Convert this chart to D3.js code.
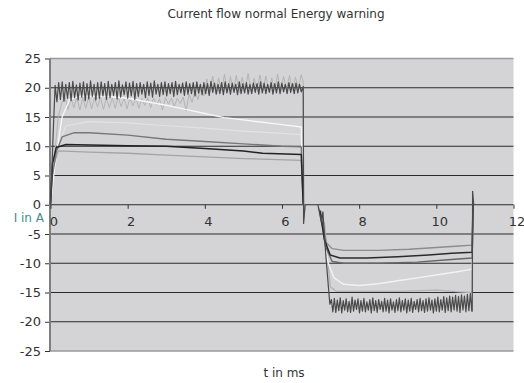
<!DOCTYPE html>
<html>
<head>
<meta charset="utf-8">
<script src="https://cdn.jsdelivr.net/npm/d3@7"></script>
<style>
  body { margin: 0; background: #fff; }
  text { font-family: "DejaVu Sans", sans-serif; }
</style>
</head>
<body>
<div id="chart"></div>
<script>
// ---- data ----
const title = "Current flow normal Energy warning";
const xTicks = [0, 2, 4, 6, 8, 10, 12];
const yTicks = [25, 20, 15, 10, 5, 0, -5, -10, -15, -20, -25];

// dark noisy trace, first pulse (0.12 .. 6.5 ms, even sampling)
const darkNoiseOn = [
  20.4, 17.6, 20.9, 18.0, 21.0, 17.7, 20.6, 18.2, 20.9, 17.8,
  21.1, 18.3, 20.5, 17.9, 20.8, 18.4, 21.0, 17.8, 20.7, 18.1,
  21.2, 18.5, 20.6, 17.9, 20.9, 18.2, 21.0, 18.6, 20.7, 18.0,
  21.1, 18.3, 20.6, 18.7, 20.9, 18.1, 21.2, 18.4, 20.5, 18.8,
  21.0, 18.2, 20.8, 18.6, 21.1, 18.0, 20.7, 18.5, 20.9, 18.9,
  20.6, 18.3, 21.0, 18.7, 20.8, 18.4, 21.2, 18.9, 20.6, 18.5,
  20.9, 18.8, 21.0, 18.6, 20.7, 19.0, 20.9, 18.5, 21.1, 18.8,
  20.6, 19.1, 20.8, 18.7, 21.0, 18.9, 20.7, 19.0, 20.9, 18.6,
  21.0, 19.1, 20.6, 18.8, 20.9, 19.0, 20.7, 18.7, 21.1, 19.2,
  20.8, 18.9, 20.6, 19.0, 20.9, 18.8, 21.0, 19.1, 20.7, 18.9,
  20.8, 19.2, 20.6, 18.8, 21.0, 19.0, 20.7, 19.1, 20.9, 18.9,
  20.6, 19.0, 20.8, 19.2, 20.7, 18.9, 21.0, 19.1, 20.8, 19.0,
  20.6, 19.2, 20.9, 18.9, 20.7, 19.1, 21.0, 19.0, 20.8, 19.3,
  20.6, 19.0, 20.9, 19.2, 20.7, 19.0, 20.8, 19.1, 20.6, 19.3
];
const darkNoiseOnSpan = [0.12, 6.5];
const darkLeadOn = [[0, 0], [0.03, 5], [0.08, 14]];
const darkTailOn = [[6.55, 20.2], [6.56, -3.2], [6.6, 0]];

// dark noisy trace, second pulse (7.28 .. 10.92 ms)
const darkNoiseOff = [
  -16.2, -18.3, -16.0, -18.4, -16.3, -18.1, -15.9, -18.5, -16.4, -18.0,
  -16.1, -18.3, -16.5, -18.4, -15.8, -18.2, -16.3, -17.9, -16.1, -18.5,
  -16.4, -18.2, -16.0, -18.3, -16.6, -18.0, -16.2, -18.5, -15.9, -18.1,
  -16.4, -18.4, -16.2, -17.9, -16.5, -18.3, -16.0, -18.2, -16.3, -18.5,
  -16.1, -18.0, -16.6, -18.4, -16.2, -18.1, -15.9, -18.3, -16.4, -18.0,
  -16.1, -18.5, -16.3, -18.2, -16.0, -18.4, -16.5, -17.9, -16.2, -18.3,
  -16.0, -18.1, -16.4, -18.4, -16.1, -18.2, -15.9, -18.0, -16.3, -18.5,
  -16.1, -18.2, -15.8, -18.3, -16.2, -18.0, -15.7, -18.4, -15.9, -18.1,
  -15.6, -18.3, -15.8, -18.0, -15.5, -18.2, -15.7, -18.4, -15.4, -18.0,
  -15.6, -18.3, -15.3, -18.1, -15.2, -18.2
];
const darkNoiseOffSpan = [7.28, 10.92];
const darkLeadOff = [[6.93, 0], [7.02, -3], [7.06, -1.2], [7.14, -9], [7.24, -17]];
const darkTailOff = [[10.93, -18.2], [10.94, 2.3], [10.97, 0]];

// light noisy trace, first pulse (0.3 .. 6.5 ms)
const lightNoiseOn = [
  17.5, 18.4, 16.3, 18.3, 16.6, 18.4, 16.2, 18.3, 16.5, 18.4,
  16.4, 18.3, 16.7, 18.4, 16.3, 18.2, 16.6, 18.3, 16.5, 18.4,
  16.8, 18.2, 16.4, 18.3, 16.9, 18.2, 16.5, 18.2, 17.0, 18.3,
  16.6, 18.2, 17.1, 18.1, 16.2, 18.3, 17.2, 18.2, 16.8, 18.2,
  17.3, 18.4, 16.0, 18.9, 17.5, 19.4, 18.0, 20.2, 18.6, 21.5,
  19.2, 22.0, 19.0, 21.7, 19.5, 22.3, 19.3, 21.9, 19.6, 22.1,
  19.2, 21.8, 19.7, 22.4, 19.4, 21.6, 19.8, 22.2, 19.5, 22.0,
  19.3, 21.7, 19.6, 22.3, 19.4, 21.9, 19.8, 22.1, 19.5, 21.8,
  20.0, 22.2
];
const lightNoiseOnSpan = [0.3, 6.5];
const lightLeadOn = [[0, 0], [0.1, 8], [0.2, 15]];
const lightTailOn = [[6.55, 21], [6.57, -2.5], [6.6, 0]];

// smooth traces [t ms, I A]
const whiteOn = [[0, 0], [0.1, 6], [0.3, 15], [0.5, 18.0], [0.8, 18.6], [1.5, 18.5], [2, 18.2],
  [2.5, 17.6], [3, 17.0], [3.5, 16.3], [4, 15.6], [4.5, 14.9], [5, 14.5], [5.5, 14.1],
  [6, 13.7], [6.5, 13.3], [6.55, 0]];
const paleOn = [[0.2, 10], [0.4, 13.5], [1, 14.2], [2, 14.0], [3, 13.5], [4, 13.1], [5, 12.6],
  [6, 12.2], [6.5, 12.0], [6.55, 0]];
const grayOn = [[0, 0], [0.05, 5], [0.15, 9], [0.3, 11.6], [0.6, 12.3], [1, 12.3], [2, 11.9],
  [3, 11.2], [4, 10.8], [5, 10.4], [6, 10.0], [6.5, 9.9], [6.55, 0]];
const blackOn = [[0, 0], [0.05, 7], [0.15, 9.8], [0.4, 10.3], [1, 10.2], [2, 10.1], [3, 10.0],
  [4, 9.6], [5, 9.2], [5.5, 8.8], [6.5, 8.6], [6.55, 0]];
const silverOn = [[0, 0], [0.05, 6], [0.2, 9.2], [1, 9.0], [2, 8.8], [3, 8.5], [4, 8.2],
  [5, 7.9], [6.5, 7.6], [6.55, 0]];

const whiteOff = [[7.0, -1], [7.1, -6], [7.2, -10], [7.35, -12.5], [7.6, -13.6], [8, -13.8],
  [8.5, -13.5], [9, -13], [9.5, -12.5], [10, -12], [10.5, -11.5], [10.93, -11], [10.95, 0]];
const silverOff = [[7.1, -3], [7.25, -14], [7.4, -14.8], [8, -14.8], [9, -14.8], [10, -14.6],
  [10.6, -14.9], [10.93, -15], [10.95, 0]];
const grayOff = [[6.95, -0.5], [7.05, -3], [7.15, -6.5], [7.3, -7.5], [7.6, -7.8], [8.5, -7.8],
  [9.3, -7.6], [10, -7.3], [10.5, -7.1], [10.93, -6.9], [10.95, 0]];
const blackOff = [[6.98, -1], [7.1, -6], [7.25, -8.6], [7.5, -9.1], [8.2, -9.1], [9, -8.9],
  [9.8, -8.6], [10.4, -8.3], [10.93, -8.1], [10.95, 0]];
const dimOff = [[7.0, -1], [7.12, -7], [7.3, -9.7], [7.6, -10], [8.5, -10], [9.5, -9.8],
  [10.3, -9.4], [10.93, -9.1], [10.95, 0]];

// ---- layout ----
const W = 524, H = 383;
const plot = { left: 50, right: 513.5, top: 58.5, bottom: 351 };

const svg = d3.select("#chart").append("svg")
  .attr("width", W).attr("height", H);

const x = d3.scaleLinear().domain([0, 12]).range([plot.left + 0.5, plot.right]);
const y = d3.scaleLinear().domain([-25, 25]).range([plot.bottom, plot.top]);

// sample an evenly spaced noise array onto its time span
function sampled(vals, span) {
  const step = (span[1] - span[0]) / (vals.length - 1);
  return vals.map((v, i) => [span[0] + i * step, v]);
}

svg.append("rect")
  .attr("x", plot.left).attr("y", y(25))
  .attr("width", plot.right - plot.left).attr("height", y(-25) - y(25))
  .attr("fill", "#d4d4d6");

// gridlines
svg.append("g")
  .selectAll("line")
  .data(yTicks)
  .join("line")
  .attr("x1", plot.left).attr("x2", plot.right)
  .attr("y1", d => y(d)).attr("y2", d => y(d))
  .attr("stroke", d => Math.abs(d) === 25 ? "#9a9a9a" : "#2b2b2b")
  .attr("stroke-width", d => Math.abs(d) === 25 ? 1.5 : 1.2);

// y axis
const yAxis = svg.append("g").attr("transform", `translate(${plot.left},0)`)
  .call(d3.axisLeft(y).tickValues(yTicks).tickSize(5).tickPadding(4).tickFormat(d => d));
yAxis.select(".domain").remove();
yAxis.selectAll(".tick line").attr("stroke", "#333");
yAxis.selectAll(".tick text")
  .attr("fill", "#333").style("font-size", "13px").attr("font-family", null);

svg.append("line")
  .attr("x1", plot.left).attr("x2", plot.left)
  .attr("y1", y(25)).attr("y2", y(-25))
  .attr("stroke", "#7e7e7e").attr("stroke-width", 2);

// x axis on the zero line
const xAxis = svg.append("g").attr("transform", `translate(0,${y(0)})`)
  .call(d3.axisBottom(x).tickValues(xTicks).tickSize(4).tickPadding(8).tickFormat(d => d));
xAxis.select(".domain").remove();
xAxis.selectAll(".tick line").attr("stroke", "#333");
xAxis.selectAll(".tick text")
  .attr("fill", "#333").attr("dx", 3).style("font-size", "13px").attr("font-family", null);

// traces
const line = d3.line().x(d => x(d[0])).y(d => y(d[1]));
const traces = [
  { pts: lightLeadOn.concat(sampled(lightNoiseOn, lightNoiseOnSpan), lightTailOn), color: "#b4b4b4", w: 1 },
  { pts: silverOff, color: "#b3b3b3", w: 1.3 },
  { pts: paleOn, color: "#e2e2e4", w: 1.2 },
  { pts: whiteOn, color: "#f6f6f6", w: 1.4 },
  { pts: whiteOff, color: "#f2f2f2", w: 1.4 },
  { pts: silverOn, color: "#a4a4a4", w: 1.3 },
  { pts: grayOn, color: "#777", w: 1.4 },
  { pts: grayOff, color: "#8c8c8c", w: 1.4 },
  { pts: dimOff, color: "#666", w: 1.4 },
  { pts: blackOn, color: "#222", w: 1.5 },
  { pts: blackOff, color: "#2a2a2a", w: 1.5 },
  { pts: darkLeadOn.concat(sampled(darkNoiseOn, darkNoiseOnSpan), darkTailOn), color: "#4a4a4a", w: 1.2 },
  { pts: darkLeadOff.concat(sampled(darkNoiseOff, darkNoiseOffSpan), darkTailOff), color: "#4a4a4a", w: 1.2 }
];

svg.append("g")
  .selectAll("path")
  .data(traces)
  .join("path")
  .attr("d", d => line(d.pts))
  .attr("fill", "none")
  .attr("stroke", d => d.color)
  .attr("stroke-width", d => d.w)
  .attr("stroke-linejoin", "round");

// texts
svg.append("text")
  .attr("x", 276).attr("y", 18)
  .attr("text-anchor", "middle")
  .style("font-size", "12px").attr("fill", "#333")
  .text(title);

svg.append("text")
  .attr("x", 44).attr("y", 222)
  .attr("text-anchor", "end")
  .style("font-size", "12px").attr("fill", "#3f8a90")
  .text("I in A");

svg.append("text")
  .attr("x", 284).attr("y", 377)
  .attr("text-anchor", "middle")
  .style("font-size", "12px").attr("fill", "#333")
  .text("t in ms");
</script>
</body>
</html>
